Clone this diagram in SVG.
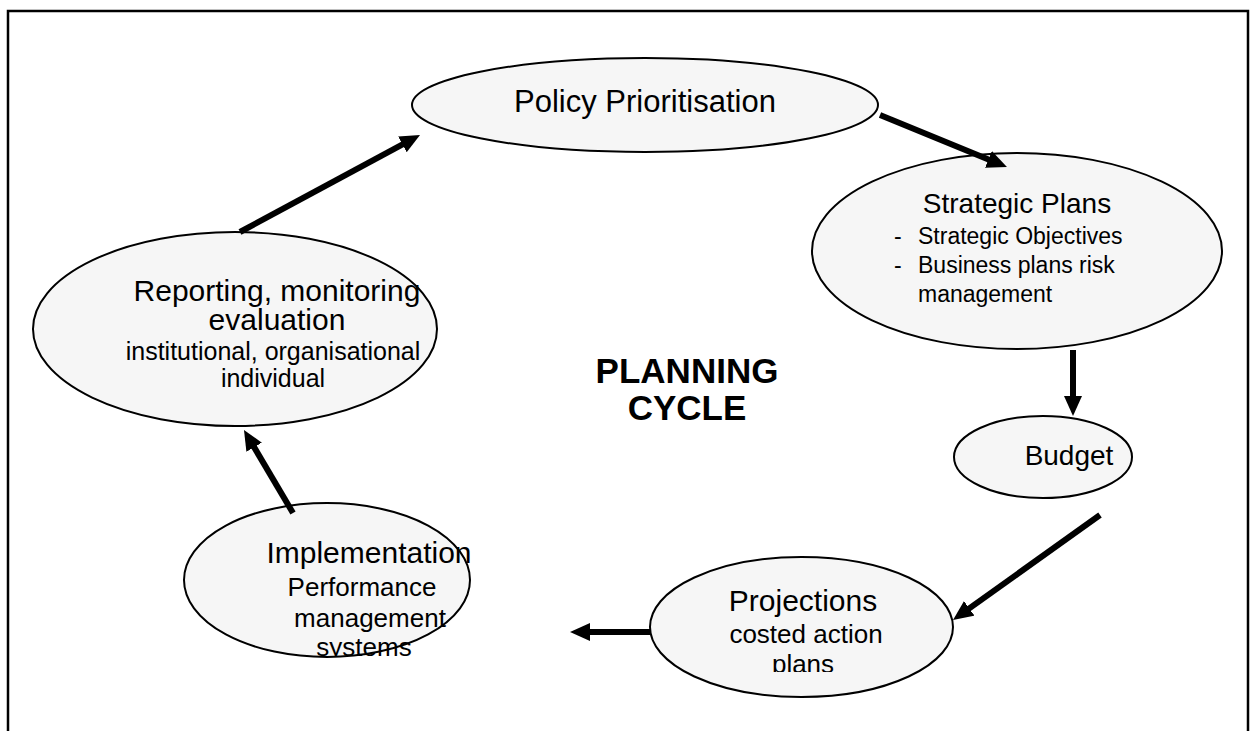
<svg xmlns="http://www.w3.org/2000/svg" width="1255" height="731" viewBox="0 0 1255 731">
  <style>
    .node { fill: #f6f6f6; stroke: #000; stroke-width: 2; }
    .t { font-family: "Liberation Sans", Arial, sans-serif; fill: #000; }
    .title { font-size: 30px; text-anchor: middle; }
    .sub { font-size: 25px; text-anchor: middle; }
    .bul { font-size: 23px; }
    .big { font-size: 35px; font-weight: bold; text-anchor: middle; }
    .conn { stroke: #000; stroke-width: 6; fill: none; marker-end: url(#head); }
  </style>
  <defs>
    <marker id="head" markerUnits="userSpaceOnUse" markerWidth="22" markerHeight="20" refX="6" refY="9" orient="auto">
      <path d="M0,0 L20,9 L0,18 z" fill="#000"/>
    </marker>
    <clipPath id="clipProj"><rect x="600" y="540" width="400" height="132"/></clipPath>
    <clipPath id="clipImpl"><rect x="150" y="490" width="350" height="166"/></clipPath>
  </defs>

  <rect width="1255" height="731" fill="#fff"/>
  <!-- frame, open at the bottom -->
  <path d="M8,731 V11 H1248 V731" fill="none" stroke="#000" stroke-width="2.5"/>

  <g id="policy">
    <ellipse class="node" cx="645" cy="105" rx="233" ry="47"/>
    <text class="t title" x="645" y="112" style="font-size:31px">Policy Prioritisation</text>
  </g>

  <g id="strategic">
    <ellipse class="node" cx="1017" cy="251" rx="205" ry="98"/>
    <text class="t title" x="1017" y="213" style="font-size:28px">Strategic Plans</text>
    <text class="t bul" x="894" y="244">-</text>
    <text class="t bul" x="918" y="244">Strategic Objectives</text>
    <text class="t bul" x="894" y="273">-</text>
    <text class="t bul" x="918" y="273">Business plans risk</text>
    <text class="t bul" x="918" y="302">management</text>
  </g>

  <g id="budget">
    <ellipse class="node" cx="1043" cy="457" rx="89" ry="41"/>
    <text class="t title" x="1069" y="465" style="font-size:28px">Budget</text>
  </g>

  <g id="projections">
    <ellipse class="node" cx="801.5" cy="627" rx="151.5" ry="70"/>
    <g clip-path="url(#clipProj)">
      <text class="t title" x="803" y="611">Projections</text>
      <text class="t sub" x="806" y="643" style="font-size:26px">costed action</text>
      <text class="t sub" x="803" y="673" style="font-size:26px">plans</text>
    </g>
  </g>

  <g id="implementation">
    <ellipse class="node" cx="327" cy="580" rx="143" ry="77"/>
    <g clip-path="url(#clipImpl)">
      <text class="t title" x="369" y="563">Implementation</text>
      <text class="t sub" x="362" y="596" style="font-size:26px">Performance</text>
      <text class="t sub" x="370" y="627" style="font-size:26px">management</text>
      <text class="t sub" x="364" y="656" style="font-size:26px">systems</text>
    </g>
  </g>

  <g id="reporting">
    <ellipse class="node" cx="235" cy="329" rx="202" ry="97"/>
    <text class="t title" x="277" y="301">Reporting, monitoring</text>
    <text class="t title" x="277" y="330">evaluation</text>
    <text class="t sub" x="273" y="360">institutional, organisational</text>
    <text class="t sub" x="273" y="387">individual</text>
  </g>

  <g id="label">
    <text class="t big" x="687" y="383">PLANNING</text>
    <text class="t big" x="687" y="420">CYCLE</text>
  </g>

  <g id="connectors">
    <line class="conn" x1="240" y1="232" x2="407.7" y2="141.6"/>
    <line class="conn" x1="880" y1="115" x2="994" y2="161.7"/>
    <line class="conn" x1="1073" y1="350" x2="1073" y2="402"/>
    <line class="conn" x1="1100" y1="515" x2="964.4" y2="611.9"/>
    <line class="conn" x1="650" y1="632" x2="584" y2="632"/>
    <line class="conn" x1="293" y1="513" x2="251.1" y2="442.1"/>
  </g>
</svg>
